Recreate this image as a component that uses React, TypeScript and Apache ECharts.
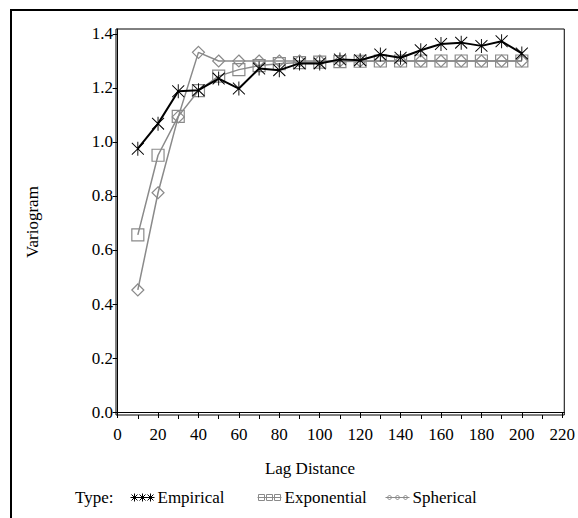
import React, { useEffect, useRef } from "react";
import * as echarts from "echarts";

const lags = [10, 20, 30, 40, 50, 60, 70, 80, 90, 100, 110, 120, 130, 140, 150, 160, 170, 180, 190, 200];
const empirical = [0.975, 1.068, 1.188, 1.192, 1.235, 1.198, 1.272, 1.266, 1.291, 1.291, 1.306, 1.303, 1.324, 1.312, 1.34, 1.363, 1.368, 1.356, 1.373, 1.328];
const exponential = [0.656, 0.951, 1.095, 1.19, 1.244, 1.268, 1.283, 1.29, 1.294, 1.296, 1.298, 1.299, 1.3, 1.3, 1.3, 1.3, 1.3, 1.3, 1.3, 1.3];
const spherical = [0.452, 0.812, 1.093, 1.332, 1.3, 1.3, 1.3, 1.3, 1.3, 1.3, 1.3, 1.3, 1.3, 1.3, 1.3, 1.3, 1.3, 1.3, 1.3, 1.3];
const xTicks = [0, 20, 40, 60, 80, 100, 120, 140, 160, 180, 200, 220];
const xMinorTicks = [10, 30, 50, 70, 90, 110, 130, 150, 170, 190, 210];
const yTicks = [0, 0.2, 0.4, 0.6, 0.8, 1.0, 1.2, 1.4];

const FONT = "Liberation Serif";
const GRAY = "#8a8a8a";

const STAR = "path://M0,1 L10,11 M10,1 L0,11 M5,0 L5,12";
const ICON_EMP = "path://M0,4 L24,4 M4,0 L4,8 M1,1 L7,7 M7,1 L1,7 M12,0 L12,8 M9,1 L15,7 M15,1 L9,7 M20,0 L20,8 M17,1 L23,7 M23,1 L17,7";
const ICON_EXP = "path://M1,1 L7,1 L7,7 L1,7 Z M9,1 L15,1 L15,7 L9,7 Z M17,1 L23,1 L23,7 L17,7 Z M0,4 L24,4";
const ICON_SPH = "path://M0,4 L24,4 M4,1.5 L6.5,4 L4,6.5 L1.5,4 Z M12,1.5 L14.5,4 L12,6.5 L9.5,4 Z M20,1.5 L22.5,4 L20,6.5 L17.5,4 Z";

function pairs(vals: number[]) {
  return lags.map((x, i) => [x, vals[i]]);
}

export default function App() {
  const ref = useRef<HTMLDivElement>(null);
  useEffect(() => {
    if (!ref.current) return;
    const chart = echarts.init(ref.current, null, { renderer: "svg" });
    const textStyle = { fontFamily: FONT, fontSize: 17, fontWeight: "normal", color: "#000" };
    const legendBase = {
      top: 489,
      padding: 0,
      itemWidth: 24,
      itemHeight: 8,
      itemGap: 4,
      textStyle: { ...textStyle, padding: [0, 0, 0, -2] },
      selectedMode: false,
    };
    chart.setOption({
      animation: false,
      backgroundColor: "#fff",
      textStyle: { fontFamily: FONT },
      grid: { left: 116, top: 29, width: 453, height: 386, show: true, borderColor: "#000", borderWidth: 1 },
      xAxis: [
        {
          type: "value",
          min: -0.8,
          max: 221,
          axisLine: { show: true, lineStyle: { color: "#000", width: 1 } },
          axisTick: { show: true, customValues: xTicks, length: 6, lineStyle: { color: "#000" } },
          axisLabel: { customValues: xTicks, margin: 11, ...textStyle },
          splitLine: { show: false },
        },
        {
          type: "value",
          min: -0.8,
          max: 221,
          position: "bottom",
          axisLine: { show: false },
          axisTick: { show: true, customValues: xMinorTicks, length: 4, lineStyle: { color: "#000" } },
          axisLabel: { show: false },
          splitLine: { show: false },
        },
      ],
      yAxis: {
        type: "value",
        min: -0.0111,
        max: 1.4185,
        axisLine: { show: true, lineStyle: { color: "#000", width: 1 } },
        axisTick: { show: true, customValues: yTicks, length: 5, lineStyle: { color: "#000" } },
        axisLabel: {
          customValues: yTicks,
          margin: 3,
          ...textStyle,
          formatter: (v: number) => v.toFixed(1),
        },
        splitLine: { show: false },
      },
      legend: [
        { ...legendBase, left: 130, data: [{ name: "Empirical", icon: ICON_EMP, itemStyle: { color: "transparent", borderColor: "#000", borderWidth: 1 } }] },
        { ...legendBase, left: 257, data: [{ name: "Exponential", icon: ICON_EXP, itemStyle: { color: "transparent", borderColor: GRAY, borderWidth: 1 } }] },
        { ...legendBase, left: 385, data: [{ name: "Spherical", icon: ICON_SPH, itemStyle: { color: "transparent", borderColor: GRAY, borderWidth: 1 } }] },
      ],
      graphic: [
        { type: "rect", shape: { x: 11, y: 10, width: 620, height: 620 }, style: { fill: "none", stroke: "#000", lineWidth: 2 }, silent: true },
        { type: "text", x: 310, y: 468, style: { text: "Lag Distance", fontFamily: FONT, fontSize: 17, fill: "#000", align: "center", verticalAlign: "middle" } },
        { type: "text", x: 32, y: 222, rotation: Math.PI / 2, style: { text: "Variogram", fontFamily: FONT, fontSize: 17, fill: "#000", align: "center", verticalAlign: "middle" } },
        { type: "text", x: 75, y: 497, style: { text: "Type:", fontFamily: FONT, fontSize: 17, fill: "#000", align: "left", verticalAlign: "middle" } },
      ],
      series: [
        {
          name: "Exponential",
          type: "line",
          data: pairs(exponential),
          symbol: "rect",
          symbolSize: 12,
          lineStyle: { color: GRAY, width: 1.5 },
          itemStyle: { color: "transparent", borderColor: GRAY, borderWidth: 1.2 },
          z: 2,
        },
        {
          name: "Spherical",
          type: "line",
          data: pairs(spherical),
          symbol: "diamond",
          symbolSize: 12,
          lineStyle: { color: GRAY, width: 1.5 },
          itemStyle: { color: "transparent", borderColor: GRAY, borderWidth: 1.2 },
          z: 3,
        },
        {
          name: "Empirical",
          type: "line",
          data: pairs(empirical),
          symbol: STAR,
          symbolSize: [12, 14],
          lineStyle: { color: "#000", width: 2 },
          itemStyle: { color: "transparent", borderColor: "#000", borderWidth: 1 },
          z: 4,
        },
      ],
    });
    return () => chart.dispose();
  }, []);
  return <div ref={ref} style={{ width: 578, height: 518, position: "absolute", left: 0, top: 0 }} />;
}
